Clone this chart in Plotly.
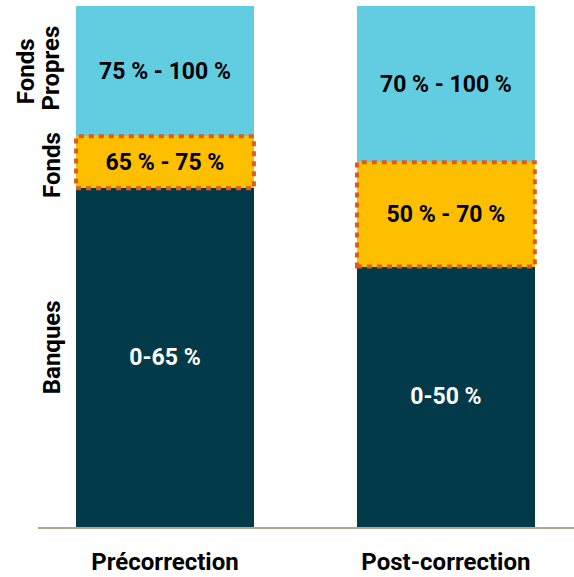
import plotly.graph_objects as go

# Scenarios and the share ranges of each funding layer (in %)
scenarios = ["Précorrection", "Post-correction"]
banques = [65, 50]
fonds = [10, 20]
fonds_propres = [25, 30]

banques_labels = ["0-65 %", "0-50 %"]
fonds_labels = ["65 % - 75 %", "50 % - 70 %"]
fp_labels = ["75 % - 100 %", "70 % - 100 %"]

FONT = "Roboto"
BAR_WIDTH = 0.633

fig = go.Figure()

layers = [
    (banques, banques_labels, "#023a4a", "white", "Banques"),
    (fonds, fonds_labels, "#fdbf00", "black", "Fonds"),
    (fonds_propres, fp_labels, "#62cde0", "black", "Fonds Propres"),
]
for vals, labels, color, tcolor, name in layers:
    fig.add_trace(go.Bar(
        x=scenarios, y=vals, name=name, text=labels,
        textposition="inside", insidetextanchor="middle", textangle=0,
        textfont=dict(family=FONT, size=23, color=tcolor, weight="bold"),
        marker=dict(color=color, line=dict(width=0)),
        width=BAR_WIDTH, hoverinfo="skip",
    ))

# Dotted outline around the "Fonds" layer of each bar
for i, (b, f) in enumerate(zip(banques, fonds)):
    fig.add_shape(
        type="rect", xref="x", yref="y",
        x0=i - BAR_WIDTH / 2, x1=i + BAR_WIDTH / 2, y0=b, y1=b + f,
        line=dict(color="#e05a1e", width=4, dash="5px,5px"),
        layer="above",
    )

# Layer names along the first bar (pixel column of each rotated line)
side_labels = [
    ("Banques", banques[0] / 2 + 2, 52),
    ("Fonds", banques[0] + fonds[0] / 2 - 0.5, 52),
    ("Fonds", banques[0] + fonds[0] + fonds_propres[0] / 2, 26),
    ("Propres", banques[0] + fonds[0] + fonds_propres[0] / 2 + 0.5, 51),
]
for txt, yv, px in side_labels:
    fig.add_annotation(
        text=txt, xref="paper", yref="y", x=(px - 38) / 536, y=yv,
        xanchor="center", yanchor="middle", textangle=-90, showarrow=False,
        font=dict(family=FONT, size=24, color="black", weight="bold"),
    )

fig.update_layout(
    barmode="stack",
    width=574, height=577,
    margin=dict(l=38, r=0, t=6, b=50, autoexpand=False),
    paper_bgcolor="white", plot_bgcolor="white",
    showlegend=False,
    xaxis=dict(
        range=[-0.452, 1.456], showgrid=False, zeroline=False,
        showline=True, linecolor="#b5a58a", linewidth=1.5,
        ticks="", ticklabelstandoff=12, automargin=False,
        tickfont=dict(family=FONT, size=24, color="black", weight="bold"),
    ),
    yaxis=dict(range=[0, 100], visible=False, automargin=False),
    uniformtext=dict(mode=False),
)

fig.write_html("out.html")
